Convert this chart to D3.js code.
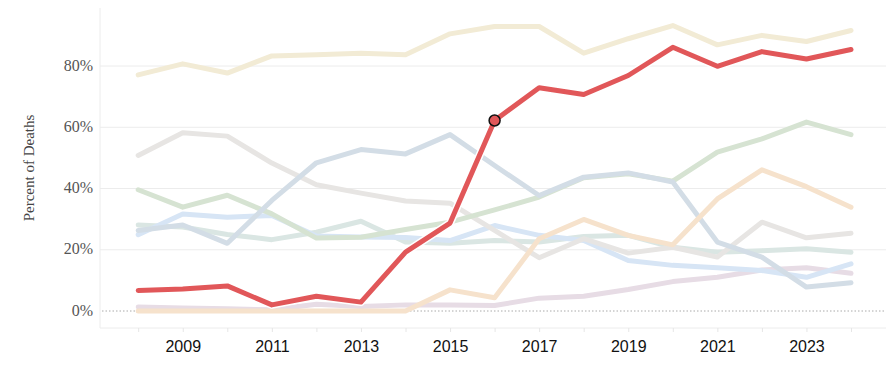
<!DOCTYPE html>
<html>
<head>
<meta charset="utf-8">
<script src="https://cdn.jsdelivr.net/npm/d3@7"></script>
<style>
  html, body { margin: 0; padding: 0; background: #fff; }
  svg { display: block; }
</style>
</head>
<body>
<div id="chart"></div>
<script>
const years = [2008,2009,2010,2011,2012,2013,2014,2015,2016,2017,2018,2019,2020,2021,2022,2023,2024];
const yTicks = [0, 20, 40, 60, 80];
const xLabelYears = [2009, 2011, 2013, 2015, 2017, 2019, 2021, 2023];

// faded background series (percent of deaths)
const seriesCream    = [77.1, 80.7, 77.7, 83.3, 83.7, 84.2, 83.7, 90.5, 92.9, 92.9, 84.2, 88.9, 93.2, 86.9, 90.0, 88.0, 91.6];
const seriesGray     = [50.8, 58.2, 57.1, 48.3, 41.2, 38.5, 35.9, 35.2, 26.3, 17.4, 23.6, 18.9, 20.8, 17.6, 29.0, 23.9, 25.4];
const seriesSteel    = [26.3, 28.1, 22.1, 36.1, 48.4, 52.7, 51.3, 57.6, 47.5, 37.7, 43.7, 45.1, 42.1, 22.5, 17.6, 7.8, 9.2];
const seriesGreen    = [39.6, 33.9, 37.8, 31.7, 23.8, 24.1, 26.6, 29.0, 33.0, 37.2, 43.5, 44.8, 42.4, 51.9, 56.2, 61.7, 57.6];
const seriesSky      = [24.9, 31.7, 30.6, 31.2, 24.5, 24.2, 24.0, 23.0, 27.9, 24.7, 23.0, 16.5, 14.9, 14.1, 13.2, 11.0, 15.4];
const seriesTeal     = [28.1, 27.4, 25.0, 23.3, 25.7, 29.3, 22.5, 22.1, 23.0, 22.5, 24.3, 24.7, 20.8, 19.2, 19.7, 20.3, 19.2];
const seriesMauve    = [1.3, 1.0, 0.7, 0.4, 2.2, 1.5, 2.0, 2.0, 1.8, 4.2, 4.8, 7.0, 9.6, 11.0, 13.4, 14.1, 12.3];
const seriesPeach    = [0, 0, 0, 0, 0, 0, 0, 6.9, 4.3, 23.6, 29.9, 24.7, 21.6, 36.6, 46.1, 40.6, 33.9];
// highlighted series
const seriesRed      = [6.7, 7.2, 8.2, 2.0, 4.8, 2.9, 19.2, 28.7, 62.2, 72.9, 70.7, 76.9, 86.1, 79.9, 84.7, 82.3, 85.4];
const markerYear = 2016;

const faded = [
  { values: seriesMauve, color: "#e7dce5" },
  { values: seriesTeal,  color: "#dae6e3" },
  { values: seriesSky,   color: "#d7e5f5" },
  { values: seriesGray,  color: "#e7e5e3" },
  { values: seriesGreen, color: "#d6e3d2" },
  { values: seriesSteel, color: "#d3dde6" },
  { values: seriesPeach, color: "#f6e2cc" },
  { values: seriesCream, color: "#f2ebd5" }
];

const W = 886, H = 379;
const plot = { left: 100, right: 886, top: 8, bottom: 328 };

const svg = d3.select("#chart").append("svg").attr("width", W).attr("height", H);

const x = d3.scaleLinear().domain([2008, 2024]).range([138.2, 851]);
const y = d3.scaleLinear().domain([0, 80]).range([311, 66]);

// gridlines
svg.append("g").selectAll("line").data(yTicks.filter(d => d > 0)).join("line")
  .attr("x1", plot.left).attr("x2", plot.right)
  .attr("y1", d => y(d)).attr("y2", d => y(d))
  .attr("stroke", "#ececec").attr("stroke-width", 1);

// zero line dotted
svg.append("line")
  .attr("x1", plot.left + 2).attr("x2", plot.right)
  .attr("y1", y(0)).attr("y2", y(0))
  .attr("stroke", "#aaa").attr("stroke-width", 1)
  .attr("stroke-dasharray", "1.5,2");

// left axis line
svg.append("line")
  .attr("x1", plot.left).attr("x2", plot.left)
  .attr("y1", plot.top).attr("y2", plot.bottom)
  .attr("stroke", "#ececec");

// bottom axis
const xAxis = d3.axisBottom(x)
  .tickValues(years)
  .tickSize(4)
  .tickFormat(d => xLabelYears.includes(d) ? String(d) : "");
const gx = svg.append("g").attr("transform", `translate(0,${plot.bottom})`).call(xAxis);
gx.select(".domain").attr("d", `M${plot.left},0H${plot.right}`).attr("stroke", "#ececec");
gx.selectAll(".tick line").attr("stroke", "#e6e6e6");
gx.selectAll(".tick text")
  .attr("font-family", "'Liberation Sans', Arial, sans-serif")
  .attr("font-size", 16).attr("fill", "#111").attr("dy", "0")
  .attr("y", 23.5);

// y tick labels
svg.append("g").selectAll("text").data(yTicks).join("text")
  .attr("x", 93).attr("y", d => y(d) - 1).attr("dy", "0.35em")
  .attr("text-anchor", "end")
  .attr("font-family", "'Liberation Serif', 'DejaVu Serif', serif")
  .attr("font-size", 16).attr("fill", "#555")
  .text(d => d + "%");

// y title
svg.append("text")
  .attr("transform", "translate(34,168) rotate(-90)")
  .attr("text-anchor", "middle")
  .attr("font-family", "'Liberation Serif', 'DejaVu Serif', serif")
  .attr("font-size", 15).attr("fill", "#444")
  .text("Percent of Deaths");

const line = d3.line().x((d, i) => x(years[i])).y(d => y(d));

svg.append("g").selectAll("path").data(faded).join("path")
  .attr("d", d => line(d.values))
  .attr("fill", "none").attr("stroke", d => d.color)
  .attr("stroke-width", 5).attr("stroke-linejoin", "round").attr("stroke-linecap", "round");

// highlighted line with halo
svg.append("path").attr("d", line(seriesRed))
  .attr("fill", "none").attr("stroke", "#fff").attr("stroke-width", 8)
  .attr("stroke-linejoin", "round").attr("stroke-linecap", "round");
svg.append("path").attr("d", line(seriesRed))
  .attr("fill", "none").attr("stroke", "#e15759").attr("stroke-width", 5)
  .attr("stroke-linejoin", "round").attr("stroke-linecap", "round");

const mi = years.indexOf(markerYear);
svg.append("circle")
  .attr("cx", x(markerYear)).attr("cy", y(seriesRed[mi]))
  .attr("r", 5.5).attr("fill", "#e15759")
  .attr("stroke", "#111").attr("stroke-width", 1.5);
</script>
</body>
</html>
